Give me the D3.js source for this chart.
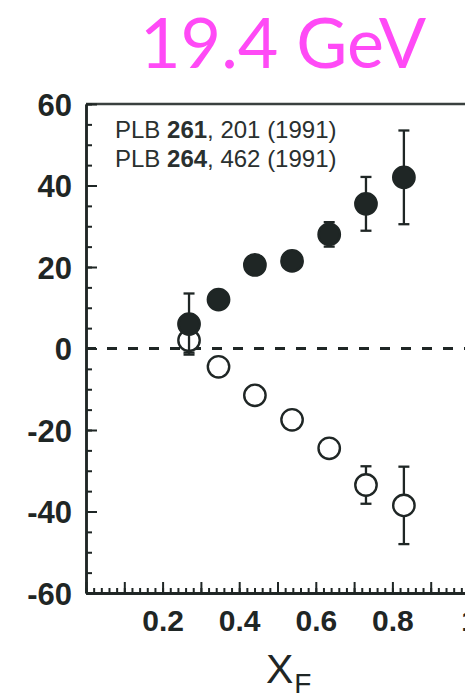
<!DOCTYPE html>
<html>
<head>
<meta charset="utf-8">
<script src="https://cdn.jsdelivr.net/npm/d3@7"></script>
<style>
  body { margin: 0; background: #fff; }
  svg { display: block; }
</style>
</head>
<body>
<div id="chart"></div>
<script>
// x_F of each bin
var xF = [0.269, 0.346, 0.441, 0.538, 0.635, 0.731, 0.830];
// filled circles (upper set)
var filledY = [6, 12, 20.5, 21.5, 28, 35.5, 42];
var filledErr = [7.5, 1.5, 1.5, 1.5, 3, 6.6, 11.5];
// open circles (lower set)
var openY = [2, -4.5, -11.5, -17.5, -24.5, -33.5, -38.5];
var openErr = [3, 1.5, 1.5, 1.5, 1.5, 4.6, 9.5];
var yTicks = [-60, -40, -20, 0, 20, 40, 60];
var xTicks = [0.2, 0.4, 0.6, 0.8, 1];
var refs = [["PLB ", "261", ", 201 (1991)"], ["PLB ", "264", ", 462 (1991)"]];

window.onload = function () {
    var width = 465, height = 697;
    var ink = "#1f2625";
    var left = 86, top = 104, bottom = 593, right = 469;

    var svg = d3.select("#chart").append("svg")
        .attr("width", width)
        .attr("height", height);

    var x = d3.scaleLinear().domain([0, 1]).range([left, right]);
    var y = d3.scaleLinear().domain([-60, 60]).range([bottom, top]);

    // title
    svg.append("text")
        .attr("x", 283).attr("y", 68)
        .attr("text-anchor", "middle")
        .attr("font-family", "Lato, 'Open Sans', sans-serif")
        .attr("font-size", 70)
        .attr("fill", "#ff4af6")
        .text("19.4 GeV");

    // frame top
    svg.append("line")
        .attr("x1", left).attr("x2", right + 10)
        .attr("y1", top).attr("y2", top)
        .attr("stroke", "#3a403f").attr("stroke-width", 2.5);

    // zero line
    svg.append("line")
        .attr("x1", left).attr("x2", width)
        .attr("y1", y(0)).attr("y2", y(0))
        .attr("stroke", ink).attr("stroke-width", 2.8)
        .attr("stroke-dasharray", "10,11");

    // y axis, minor + major
    var yMinor = d3.range(-60, 61, 5);
    svg.append("g")
        .attr("transform", "translate(" + left + ",0)")
        .call(d3.axisLeft(y).tickValues(yMinor).tickSizeInner(-6).tickSizeOuter(0).tickFormat(""))
        .call(styleAxis);
    svg.append("g")
        .attr("transform", "translate(" + left + ",0)")
        .call(d3.axisLeft(y).tickValues(yTicks).tickSizeInner(-11).tickSizeOuter(0).tickPadding(14)
            .tickFormat(function (d) { return String(d); }))
        .call(styleAxis)
        .selectAll("text")
        .attr("font-size", 31)
        .attr("dy", "0.36em");

    // x axis, minor + major
    var xMinor = d3.range(0, 51).map(function (i) { return i * 0.02; });
    var xMajor = d3.range(0, 11).map(function (i) { return i * 0.1; });
    svg.append("g")
        .attr("transform", "translate(0," + bottom + ")")
        .call(d3.axisBottom(x).tickValues(xMinor).tickSizeInner(-5).tickSizeOuter(0).tickFormat(""))
        .call(styleAxis);
    svg.append("g")
        .attr("transform", "translate(0," + bottom + ")")
        .call(d3.axisBottom(x).tickValues(xMajor).tickSizeInner(-11).tickSizeOuter(0).tickFormat(""))
        .call(styleAxis);
    svg.append("g")
        .attr("transform", "translate(0," + bottom + ")")
        .call(d3.axisBottom(x).tickValues(xTicks).tickSize(0).tickPadding(17)
            .tickFormat(function (d) { return d === 1 ? "1" : d3.format(".1f")(d); }))
        .call(styleAxis)
        .selectAll("text")
        .attr("font-size", 30);

    function styleAxis(g) {
        g.select(".domain").attr("stroke", ink).attr("stroke-width", 2.5);
        g.selectAll(".tick line").attr("stroke", ink).attr("stroke-width", 2);
        g.selectAll("text")
            .attr("fill", ink)
            .attr("font-family", "'Liberation Sans', Arial, sans-serif")
            .attr("font-weight", "bold");
    }

    // x axis title
    var xt = svg.append("text")
        .attr("x", 266).attr("y", 683)
        .attr("font-family", "'Liberation Sans', Arial, sans-serif")
        .attr("fill", ink);
    xt.append("tspan").attr("font-size", 41).text("X");
    xt.append("tspan").attr("font-size", 28).attr("dx", 1).attr("dy", 10).text("F");

    // references
    refs.forEach(function (r, i) {
        var t = svg.append("text")
            .attr("x", 115).attr("y", 138 + i * 29)
            .attr("font-family", "'Liberation Sans', Arial, sans-serif")
            .attr("font-size", 24)
            .attr("fill", "#2a302f");
        t.append("tspan").text(r[0]);
        t.append("tspan").attr("font-weight", "bold").text(r[1]);
        t.append("tspan").text(r[2]);
    });

    // points with error bars
    var sets = [
        { ys: openY, err: openErr, fill: "#fff" },
        { ys: filledY, err: filledErr, fill: ink }
    ];
    sets.forEach(function (s) {
        var g = svg.append("g");
        var pts = xF.map(function (d, i) { return { x: d, y: s.ys[i], e: s.err[i] }; });
        var bars = g.selectAll(".err").data(pts).enter().append("g").attr("class", "err")
            .attr("stroke", ink).attr("stroke-width", 2.3);
        bars.append("line")
            .attr("x1", function (d) { return x(d.x); })
            .attr("x2", function (d) { return x(d.x); })
            .attr("y1", function (d) { return y(d.y + d.e); })
            .attr("y2", function (d) { return y(d.y - d.e); });
        [1, -1].forEach(function (sgn) {
            bars.append("line")
                .attr("x1", function (d) { return x(d.x) - 5.5; })
                .attr("x2", function (d) { return x(d.x) + 5.5; })
                .attr("y1", function (d) { return y(d.y + sgn * d.e); })
                .attr("y2", function (d) { return y(d.y + sgn * d.e); });
        });
        g.selectAll("circle").data(pts).enter().append("circle")
            .attr("cx", function (d) { return x(d.x); })
            .attr("cy", function (d) { return y(d.y); })
            .attr("r", 10.7)
            .attr("fill", s.fill)
            .attr("stroke", ink)
            .attr("stroke-width", 2.4);
    });
}
</script>
</body>
</html>
